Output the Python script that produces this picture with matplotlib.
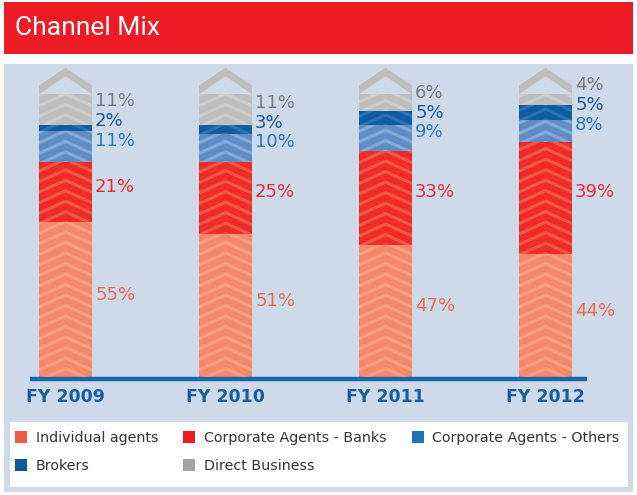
import numpy as np
import matplotlib
matplotlib.use("Agg")
from matplotlib import pyplot as plt
from matplotlib.patches import Rectangle, Polygon, Patch

# data (percent of new business by channel)
years = ["FY 2009", "FY 2010", "FY 2011", "FY 2012"]
channels = ["Individual agents", "Corporate Agents - Banks", "Corporate Agents - Others",
            "Brokers", "Direct Business"]
individual = [55, 51, 47, 44]
banks = [21, 25, 33, 39]
others = [11, 10, 9, 8]
brokers = [2, 3, 5, 5]
direct = [11, 11, 6, 4]
series = [individual, banks, others, brokers, direct]

# styling
bar_colors = ["#F6886A", "#EE2A2A", "#5E8DC6", "#0E5DA0", "#BDBDBD"]
stripe_colors = ["#FBA084", "#F4583E", "#86A8D5", "#2B72B0", "#CCCCCC"]
legend_colors = ["#F15B40", "#ED1C24", "#2372B5", "#0A5A9C", "#A3A3A4"]
label_colors = ["#EE6A4D", "#EC2830", "#2B7ABC", "#17599A", "#7A7A7A"]
panel_color = "#CED9EA"
W, H = 637, 495

fig = plt.figure(figsize=(W / 100, H / 100), dpi=100)
fig.patch.set_facecolor("white")


def fx(px):
    return px / W


def fy(py):
    return 1 - py / H


# red header + panel + white legend box
fig.patches.append(Rectangle((fx(4), fy(54)), fx(629), 52 / H, transform=fig.transFigure,
                             facecolor="#ED1C24", edgecolor="none", zorder=0))
fig.text(fx(15), fy(28), "Channel Mix", color="white", fontsize=19, family="Roboto",
         va="center", ha="left")
fig.patches.append(Rectangle((fx(4), fy(492)), fx(629), 428 / H, transform=fig.transFigure,
                             facecolor=panel_color, edgecolor="none", zorder=0))
fig.patches.append(Rectangle((fx(10), fy(487)), fx(618), 65 / H, transform=fig.transFigure,
                             facecolor="white", edgecolor="none", zorder=0))

ax = fig.add_axes([fx(4), fy(420), fx(629), (420 - 64) / H])
ax.set_zorder(2)
ax.set_facecolor("none")
ax.axis("off")
px_per_unit = 2.85
ax.set_xlim((4 - 65.5) / 160, (633 - 65.5) / 160)
ax.set_ylim((379 - 420) / px_per_unit, (379 - 64) / px_per_unit)

x = np.arange(len(years))
width = 0.33
rise = 12 / px_per_unit
period = 10.5 / px_per_unit

bottom = np.zeros(len(years))
for k, vals in enumerate(series):
    bars = ax.bar(x, vals, width, bottom=bottom, color=bar_colors[k], edgecolor="none",
                  zorder=2)
    for b in bars:
        x0, w = b.get_x(), b.get_width()
        y0, h = b.get_y(), b.get_height()
        for yy in np.arange(y0 - rise - period, y0 + h + period, period):
            ln, = ax.plot([x0, x0 + w / 2, x0 + w], [yy, yy + rise, yy],
                          color=stripe_colors[k], lw=2.3, zorder=3, solid_capstyle="butt")
            ln.set_clip_path(b)
    bottom = bottom + np.array(vals)

# chevron cap on top of each stack
for i in x:
    x0, x1, xc = i - width / 2, i + width / 2, i
    t = bottom[i]
    cap = Polygon([(x0, t), (x0, t + 3), (xc, t + 9.2), (x1, t + 3), (x1, t), (xc, t + 6.2)],
                  closed=True, facecolor="#BDBDBD", edgecolor="none", zorder=4)
    ax.add_patch(cap)

# percentage labels to the right of each bar, pushed apart where segments are thin
gap = 7
for i in x:
    cum = 0
    prev = -100
    for k, vals in enumerate(series):
        c = cum + vals[i] / 2 + 2
        yl = max(c, prev + gap)
        prev = yl
        cum += vals[i]
        ax.text(i + width / 2 + 0.02, yl, f"{vals[i]}%", color=label_colors[k],
                fontsize=13, va="center", ha="left", zorder=5)

# baseline and category labels
ax.plot([(30 - 65.5) / 160, (587 - 65.5) / 160], [0, 0], color="#1767AA", lw=3.2,
        solid_capstyle="butt", zorder=6)
for i, yr in enumerate(years):
    ax.text(i, -3.2, yr, color="#1A5C9C", fontsize=12.5, fontweight="bold",
            ha="center", va="top")

# legend (row-major order across 3 columns)
handles = [Patch(facecolor=c, edgecolor="none") for c in legend_colors]
order = [0, 3, 1, 4, 2]
fig.legend([handles[o] for o in order], [channels[o] for o in order],
           loc="center left", bbox_to_anchor=(fx(2), fy(452)), ncol=3, frameon=False,
           fontsize=10.3, handlelength=0.85, handleheight=0.85, handletextpad=0.6,
           columnspacing=1.75, labelspacing=1.0, labelcolor="#333333")

fig.savefig("out.png", dpi=100)
